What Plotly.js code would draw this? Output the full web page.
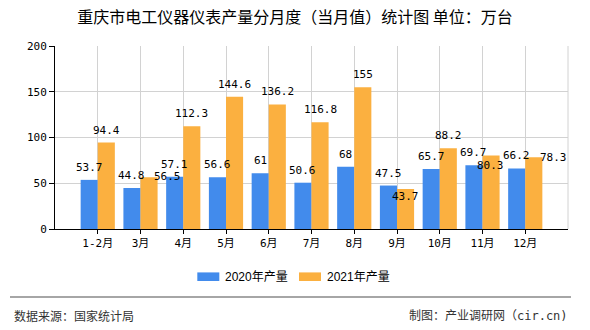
<!DOCTYPE html>
<html>
<head>
<meta charset="utf-8">
<script src="https://cdn.plot.ly/plotly-3.0.1.min.js"></script>
<style>
html,body{margin:0;padding:0;background:#fff;}
#chart{width:590px;height:330px;}
</style>
</head>
<body>
<div id="chart"></div>
<script>
// ---- data ----
var categories = ["1-2月","3月","4月","5月","6月","7月","8月","9月","10月","11月","12月"];
var values2020 = [53.7, 44.8, 57.1, 56.6, 61, 50.6, 68, 47.5, 65.7, 69.7, 66.2];
var values2021 = [94.4, 56.5, 112.3, 144.6, 136.2, 116.8, 155, 43.7, 88.2, 80.3, 78.3];
var seriesNames = ["2020年产量", "2021年产量"];
var yTicks = [0, 50, 100, 150, 200];
var titleText = "重庆市电工仪器仪表产量分月度（当月值）统计图 单位：万台";
var sourceText = "数据来源：国家统计局";
var makerText = "制图：产业调研网（cir.cn)";

// ---- styles ----
var colors = ["#428BEC", "#FBB040"];
var monoFont = "DejaVu Sans Mono, Noto Sans CJK SC, monospace";
var cjkFont = "Noto Sans CJK SC, sans-serif";
var gridColor = "#d2d2d2";

// label placement tweaks (px) for labels that the original moved to avoid overlap
var labelShift2021 = {1: [18, 1], 7: [0, -7.5], 9: [-1, -10], 10: [20, 0]};

var traces = [
  {type: "bar", name: seriesNames[0], x: categories, y: values2020,
   marker: {color: colors[0]}, showlegend: false, hoverinfo: "x+y"},
  {type: "bar", name: seriesNames[1], x: categories, y: values2021,
   marker: {color: colors[1]}, showlegend: false, hoverinfo: "x+y"}
];

var annotations = [];
var barHalf = 8.55; // half of one bar width in px
[values2020, values2021].forEach(function (vals, s) {
  vals.forEach(function (v, i) {
    var dx = (s === 0 ? -barHalf : barHalf), dy = 12.5;
    if (s === 1 && labelShift2021[i]) { dx += labelShift2021[i][0]; dy = labelShift2021[i][1]; }
    annotations.push({
      x: categories[i], y: v, xref: "x", yref: "y",
      text: String(v), showarrow: false,
      xanchor: "center", yanchor: "middle",
      xshift: dx, yshift: dy,
      font: {family: monoFont, size: 11, color: "#000"}
    });
  });
});

// custom legend
var legendBoxes = [[0.2774, 0.3203], [0.4756, 0.5185]];
var shapes = [];
seriesNames.forEach(function (n, s) {
  shapes.push({type: "rect", xref: "paper", yref: "paper",
    x0: legendBoxes[s][0], x1: legendBoxes[s][1], y0: -0.2842, y1: -0.2372,
    line: {width: 0}, fillcolor: colors[s]});
  annotations.push({xref: "paper", yref: "paper", x: legendBoxes[s][1] + 0.008, y: -0.2623,
    xanchor: "left", yanchor: "middle", showarrow: false, text: n,
    font: {family: "Liberation Sans, Noto Sans CJK SC, sans-serif", size: 12, color: "#000"}});
});
// right border of plot
shapes.push({type: "line", xref: "paper", yref: "paper", x0: 1, x1: 1, y0: 0, y1: 1,
  line: {color: gridColor, width: 1}});
// footer separator
shapes.push({type: "line", xref: "paper", yref: "paper", x0: -0.0877, x1: 1.0058, y0: -0.3716, y1: -0.3716,
  line: {color: "#888", width: 1.5}});
annotations.push({xref: "paper", yref: "paper", x: -0.0838, y: -0.4754, xanchor: "left", yanchor: "middle",
  showarrow: false, text: sourceText, font: {family: cjkFont, size: 12, color: "#333"}});
annotations.push({xref: "paper", yref: "paper", x: 1.0039, y: -0.4754, xanchor: "right", yanchor: "middle",
  showarrow: false, text: makerText, font: {family: monoFont, size: 12, color: "#333"}});

var layout = {
  width: 590, height: 330,
  margin: {l: 55, r: 22, t: 46, b: 101, pad: 0},
  paper_bgcolor: "#fff", plot_bgcolor: "#fff",
  title: {text: titleText, x: 0.5, xref: "container", xanchor: "center",
          y: 1 - 17.5 / 330, yref: "container", yanchor: "middle",
          font: {family: cjkFont, size: 16, color: "#000"}},
  barmode: "group", bargap: 0.2, bargroupgap: 0,
  showlegend: false,
  xaxis: {type: "category", range: [-1, 11], showgrid: true, gridcolor: gridColor, gridwidth: 1,
          showline: true, linecolor: "#000", linewidth: 1, ticks: "outside", ticklen: 4,
          tickcolor: "#000", tickfont: {family: monoFont, size: 11, color: "#000"},
          zeroline: false, fixedrange: true},
  yaxis: {range: [0, 200], tickmode: "array", tickvals: yTicks, ticktext: yTicks.map(String),
          showgrid: true, gridcolor: gridColor, gridwidth: 1,
          showline: true, linecolor: "#000", linewidth: 1, ticks: "outside", ticklen: 5,
          tickcolor: "#000", tickfont: {family: monoFont, size: 11, color: "#000"},
          zeroline: false, fixedrange: true},
  annotations: annotations,
  shapes: shapes
};

Plotly.newPlot("chart", traces, layout, {displayModeBar: false, staticPlot: true});
</script>
</body>
</html>
